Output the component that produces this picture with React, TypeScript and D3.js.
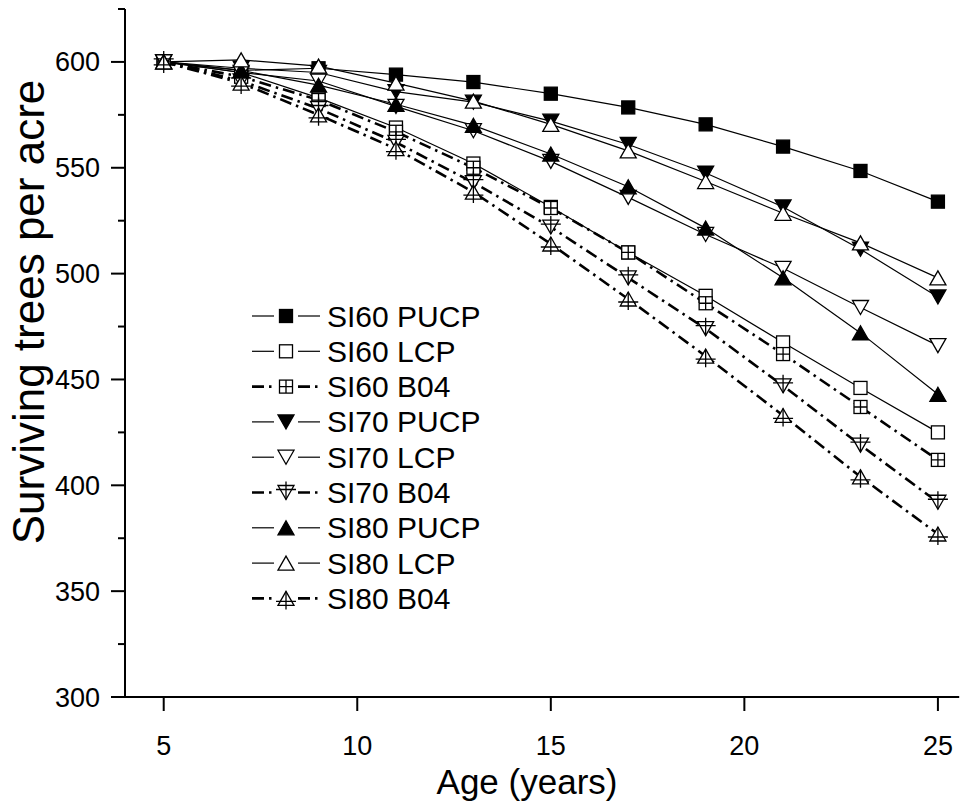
import React, { useEffect, useRef } from 'react';
import * as d3 from 'd3';

// stand age in years
const ages = [5, 7, 9, 11, 13, 15, 17, 19, 21, 23, 25];

// surviving trees per acre
const si60Pucp = [600, 596, 597, 594, 590.5, 585, 578.5, 570.5, 560, 548.5, 534];
const si60Lcp = [600, 595, 583, 569, 552, 531.5, 510, 489.5, 467.5, 446, 425];
const si60B04 = [600, 593, 582, 567, 550, 531, 510, 486, 462, 437, 412];
const si70Pucp = [600, 597, 595, 586, 581, 572, 561, 547.5, 531.5, 511.5, 489];
const si70Lcp = [600, 595, 591, 579, 567.5, 553, 536, 518.5, 502.5, 484, 466];
const si70B04 = [600, 591, 578, 562, 543, 522, 498, 474, 447, 419, 392];
const si80Pucp = [600, 596, 589, 580, 570, 556.5, 541, 521.5, 498, 472, 443];
const si80Lcp = [600, 601, 598, 590, 581.5, 570.5, 558, 543.5, 528.5, 514.5, 498];
const si80B04 = [600, 590, 575, 559, 538.5, 514, 488, 461, 433, 404, 377];

const seriesNames = ['SI60 PUCP', 'SI60 LCP', 'SI60 B04', 'SI70 PUCP', 'SI70 LCP', 'SI70 B04', 'SI80 PUCP', 'SI80 LCP', 'SI80 B04'];

const yTicks = [300, 350, 400, 450, 500, 550, 600];
const yMinorTicks = [325, 375, 425, 475, 525, 575, 625];
const xTicks = [5, 10, 15, 20, 25];

const series = [
  { name: seriesNames[0], values: si60Pucp, marker: 'squareFill', dashed: false },
  { name: seriesNames[1], values: si60Lcp, marker: 'squareOpen', dashed: false },
  { name: seriesNames[2], values: si60B04, marker: 'squareGrid', dashed: true },
  { name: seriesNames[3], values: si70Pucp, marker: 'downFill', dashed: false },
  { name: seriesNames[4], values: si70Lcp, marker: 'downOpen', dashed: false },
  { name: seriesNames[5], values: si70B04, marker: 'downCross', dashed: true },
  { name: seriesNames[6], values: si80Pucp, marker: 'upFill', dashed: false },
  { name: seriesNames[7], values: si80Lcp, marker: 'upOpen', dashed: false },
  { name: seriesNames[8], values: si80B04, marker: 'upCross', dashed: true },
];

const FONT = '"Liberation Sans", Arial, sans-serif';

function drawMarker(g: any, type: string, cx: number, cy: number) {
  const m = g.append('g').attr('transform', `translate(${cx},${cy})`);
  const sw = 1.3;
  if (type.startsWith('square')) {
    m.append('rect')
      .attr('x', -6.5).attr('y', -6.5)
      .attr('width', 13).attr('height', 13)
      .attr('fill', type === 'squareFill' ? '#000' : '#fff')
      .attr('stroke', '#000')
      .attr('stroke-width', sw);
    if (type === 'squareGrid') {
      m.append('path').attr('d', 'M-6.5,0H6.5M0,-6.5V6.5')
        .attr('stroke', '#000').attr('stroke-width', sw).attr('fill', 'none');
    }
    return;
  }
  const up = type.startsWith('up');
  const d = up ? 'M0,-7L8,7L-8,7Z' : 'M0,7L8,-7L-8,-7Z';
  m.append('path')
    .attr('d', d)
    .attr('fill', type.endsWith('Fill') ? '#000' : '#fff')
    .attr('stroke', '#000')
    .attr('stroke-width', sw)
    .attr('stroke-linejoin', 'miter');
  if (type.endsWith('Cross')) {
    const cross = up ? 'M-10,3H10M0,-7V11' : 'M-10,-3H10M0,7V-11';
    m.append('path').attr('d', cross)
      .attr('stroke', '#000').attr('stroke-width', sw).attr('fill', 'none');
  }
}

export default function App() {
  const ref = useRef<SVGSVGElement | null>(null);

  useEffect(() => {
    const width = 967;
    const height = 802;
    const svg = d3.select(ref.current);
    svg.selectAll('*').remove();

    const xScale = d3.scaleLinear().domain([4, 25.55]).range([125, 125 + 21.55 * 38.71]);
    const yScale = d3.scaleLinear().domain([300, 625]).range([697, 9]);

    svg.append('rect').attr('width', width).attr('height', height).attr('fill', '#fff');

    // axes
    const axis = svg.append('g').attr('stroke', '#000').attr('stroke-width', 2).attr('fill', 'none');
    axis.append('line')
      .attr('x1', xScale(4)).attr('x2', xScale(4))
      .attr('y1', yScale(625)).attr('y2', yScale(300) + 1);
    axis.append('line')
      .attr('x1', xScale(4) - 14).attr('x2', xScale(25.55))
      .attr('y1', yScale(300)).attr('y2', yScale(300));

    yTicks.forEach(t => {
      axis.append('line')
        .attr('x1', xScale(4) - 14).attr('x2', xScale(4))
        .attr('y1', yScale(t)).attr('y2', yScale(t));
    });
    yMinorTicks.forEach(t => {
      axis.append('line')
        .attr('x1', xScale(4) - 7).attr('x2', xScale(4))
        .attr('y1', yScale(t)).attr('y2', yScale(t));
    });
    xTicks.forEach(t => {
      axis.append('line')
        .attr('x1', xScale(t)).attr('x2', xScale(t))
        .attr('y1', yScale(300)).attr('y2', yScale(300) + 14);
    });

    svg.append('g').selectAll('text')
      .data(yTicks).enter()
      .append('text')
      .attr('x', xScale(4) - 25)
      .attr('y', d => yScale(d) + 9.5)
      .attr('text-anchor', 'end')
      .attr('font-family', FONT)
      .attr('font-size', 27)
      .text(d => d);

    svg.append('g').selectAll('text')
      .data(xTicks).enter()
      .append('text')
      .attr('x', d => xScale(d))
      .attr('y', yScale(300) + 58)
      .attr('text-anchor', 'middle')
      .attr('font-family', FONT)
      .attr('font-size', 27)
      .text(d => d);

    // axis titles
    svg.append('text')
      .attr('transform', `translate(44, 312) rotate(-90)`)
      .attr('text-anchor', 'middle')
      .attr('font-family', FONT)
      .attr('font-size', 44)
      .text('Surviving trees per acre');

    svg.append('text')
      .attr('x', 527)
      .attr('y', 794)
      .attr('text-anchor', 'middle')
      .attr('font-family', FONT)
      .attr('font-size', 35)
      .text('Age (years)');

    // lines
    const line = d3.line<number>()
      .x((d, i) => xScale(ages[i]))
      .y(d => yScale(d));

    const lines = svg.append('g');
    series.forEach(s => {
      lines.append('path')
        .attr('d', line(s.values))
        .attr('fill', 'none')
        .attr('stroke', '#000')
        .attr('stroke-width', s.dashed ? 2.6 : 1.2)
        .attr('stroke-dasharray', s.dashed ? '12,5,2.5,5' : null);
    });

    // markers
    const marks = svg.append('g');
    series.forEach(s => {
      s.values.forEach((v, i) => drawMarker(marks, s.marker, xScale(ages[i]), yScale(v)));
    });

    // legend
    const legend = svg.append('g');
    series.forEach((s, i) => {
      const cy = 316 + i * 35.3;
      const row = legend.append('g');
      [[252, 274], [298, 320]].forEach(([a, b]) => {
        row.append('line')
          .attr('x1', a).attr('x2', b).attr('y1', cy).attr('y2', cy)
          .attr('stroke', '#000')
          .attr('stroke-width', s.dashed ? 2.6 : 1.2)
          .attr('stroke-dasharray', s.dashed ? '12,5,2.5,5' : null);
      });
      drawMarker(row, s.marker, 286, cy);
      row.append('text')
        .attr('x', 327)
        .attr('y', cy + 10.5)
        .attr('font-family', FONT)
        .attr('font-size', 30)
        .text(s.name);
    });
  }, []);

  return (
    <svg
      ref={ref}
      width={967}
      height={802}
      style={{ position: 'absolute', left: 0, top: 0, display: 'block' }}
    />
  );
}
